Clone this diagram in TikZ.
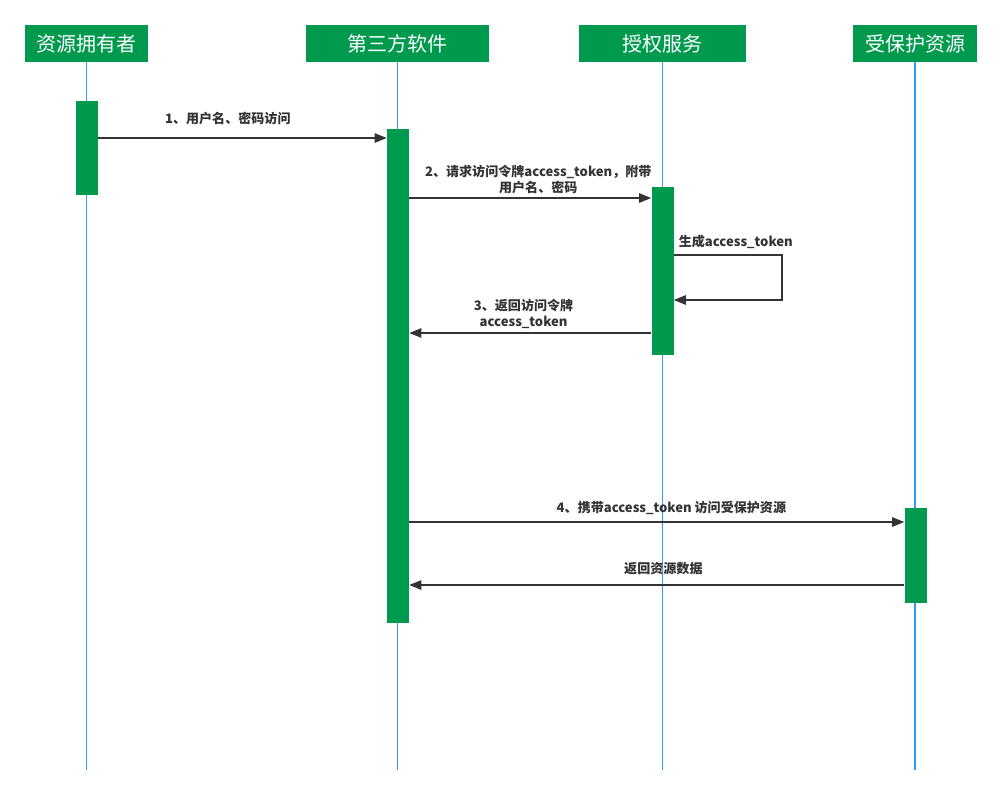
\documentclass[tikz,border=0pt]{standalone}
\usepackage{fontspec}
\setmainfont{Noto Sans CJK SC}
\usetikzlibrary{arrows.meta}
\definecolor{headgreen}{RGB}{0,154,78}
\definecolor{lifeblue}{RGB}{51,153,255}
\definecolor{msgdark}{RGB}{51,51,51}

\begin{document}
\begin{tikzpicture}[x=0.75pt,y=-0.75pt,
		head/.style={fill=headgreen,text=white,inner sep=0pt,minimum height=27.75pt,font=\fontsize{15pt}{18pt}\selectfont},
		bar/.style={fill=headgreen,inner sep=0pt,minimum width=16.5pt},
		life/.style={lifeblue,line width=1.4pt},
		msg/.style={msgdark,line width=1.1pt,-{Triangle[length=9pt,width=7pt]}},
		lbl/.style={text=msgdark,font=\fontsize{9.8pt}{12pt}\selectfont\bfseries,align=center,inner sep=2pt}]
	\useasboundingbox (0,0) rectangle (1002,797);
	% participants
	\node[head,minimum width=92.25pt] (owner) at (86.5,43.5) {资源拥有者};
	\node[head,minimum width=137.25pt] (client) at (397.5,43.5) {第三方软件};
	\node[head,minimum width=125.25pt] (auth) at (662.5,43.5) {授权服务};
	\node[head,minimum width=93pt] (res) at (915,43.5) {受保护资源};
	\coordinate (bottom) at (0,770);
	\foreach \n in {owner,client,auth,res}
		\draw[life] (\n.south) -- (\n.south |- bottom);
	% activations
	\node[bar,minimum height=70.5pt] (ownbar) at (87,148) {};
	\node[bar,minimum height=370.5pt] (clibar) at (398,376) {};
	\node[bar,minimum height=126pt] (authbar) at (662.5,271) {};
	\node[bar,minimum height=71.25pt] (resbar) at (915.5,555.5) {};
	% message rows
	\coordinate (m1) at (0,138);
	\coordinate (m2) at (0,198);
	\coordinate (s1) at (0,255);
	\coordinate (s2) at (0,300);
	\coordinate (m3) at (0,333);
	\coordinate (m4) at (0,522);
	\coordinate (m5) at (0,585);
	% messages
	\draw[msg] (ownbar.east |- m1) -- node[lbl,above=7pt,xshift=-11pt] {1、用户名、密码访问} (clibar.west |- m1);
	\draw[msg] (clibar.east |- m2) -- node[lbl,above=0.5pt,xshift=6pt] {2、请求访问令牌access\_token，附带\\用户名、密码} (authbar.west |- m2);
	\draw[msg] (authbar.east |- s1) -- node[lbl,above=2.5pt,xshift=6pt] {生成access\_token} ++(108,0) |- (authbar.east |- s2);
	\draw[msg] (authbar.west |- m3) -- node[lbl,above=0.5pt,xshift=-5pt] {3、返回访问令牌\\access\_token} (clibar.east |- m3);
	\draw[msg] (clibar.east |- m4) -- node[lbl,above=3pt,xshift=11pt] {4、携带access\_token 访问受保护资源} (resbar.west |- m4);
	\draw[msg] (resbar.west |- m5) -- node[lbl,above=5pt,xshift=5pt] {返回资源数据} (clibar.east |- m5);
\end{tikzpicture}
\end{document}
